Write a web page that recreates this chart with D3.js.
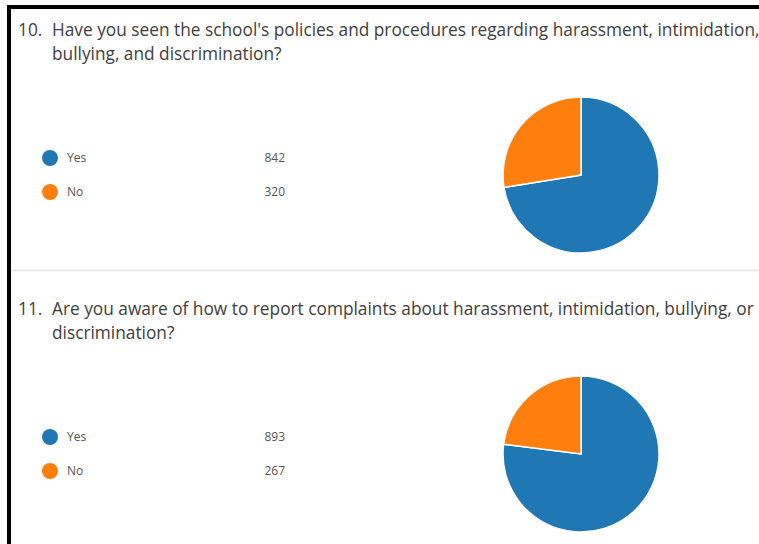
<!DOCTYPE html>
<html>
<head>
<meta charset="utf-8">
<script src="https://cdn.jsdelivr.net/npm/d3@7"></script>
<style>
  html, body { margin: 0; padding: 0; background: #fff; }
  svg { display: block; }
</style>
</head>
<body>
<svg id="chart" width="759" height="544"></svg>
<script>
// Survey answers, one block per question
const questions = [
  ["10.", "Have you seen the school's policies and procedures regarding harassment, intimidation,", "bullying, and discrimination?"],
  ["11.", "Are you aware of how to report complaints about harassment, intimidation, bullying, or", "discrimination?"]
];
const answers = ["Yes", "No"];
const countsQ10 = [842, 320];
const countsQ11 = [893, 267];
const allCounts = [countsQ10, countsQ11];

const colors = d3.scaleOrdinal().domain(answers).range(["#1f77b4", "#ff7f0e"]);

const svg = d3.select("#chart");
const font = "'Open Sans', 'Noto Sans', sans-serif";

// frame
svg.append("rect").attr("x", 9).attr("y", 7).attr("width", 800).attr("height", 600)
  .attr("fill", "none").attr("stroke", "#000").attr("stroke-width", 4);

// separator between the two questions
svg.append("line").attr("x1", 11).attr("x2", 759).attr("y1", 270.5).attr("y2", 270.5)
  .attr("stroke", "#e6e6e6").attr("stroke-width", 1.5);

const blockTop = [0, 279];
const pie = d3.pie().sort(null).value(d => d.value);
const arc = d3.arc().innerRadius(0).outerRadius(78);

allCounts.forEach((counts, i) => {
  const g = svg.append("g").attr("transform", `translate(0,${blockTop[i]})`);
  const q = questions[i];

  const title = g.append("g").attr("font-family", font).attr("font-size", 17.3).attr("fill", "#404040");
  title.append("text").attr("x", 18).attr("y", 36).text(q[0]);
  title.append("text").attr("x", 52).attr("y", 36).text(q[1]);
  title.append("text").attr("x", 52).attr("y", 60).text(q[2]);

  const data = answers.map((a, j) => ({ label: a, value: counts[j] }));

  // legend
  const leg = g.selectAll("g.leg").data(data).join("g").attr("class", "leg")
    .attr("transform", (d, j) => `translate(0,${158 + j * 34})`);
  leg.append("circle").attr("cx", 50).attr("cy", 0).attr("r", 8).attr("fill", d => colors(d.label));
  leg.append("text").attr("x", 67).attr("y", 4).attr("font-family", font).attr("font-size", 12)
    .attr("fill", "#555").text(d => d.label);
  leg.append("text").attr("x", 285).attr("y", 4).attr("text-anchor", "end").attr("font-family", font)
    .attr("font-size", 12).attr("fill", "#555").text(d => d.value);

  // pie
  const pg = g.append("g").attr("transform", "translate(581,175)");
  pg.selectAll("path").data(pie(data)).join("path")
    .attr("d", arc).attr("fill", d => colors(d.data.label))
    .attr("stroke", "#fff").attr("stroke-width", 1.5);
});
</script>
</body>
</html>
